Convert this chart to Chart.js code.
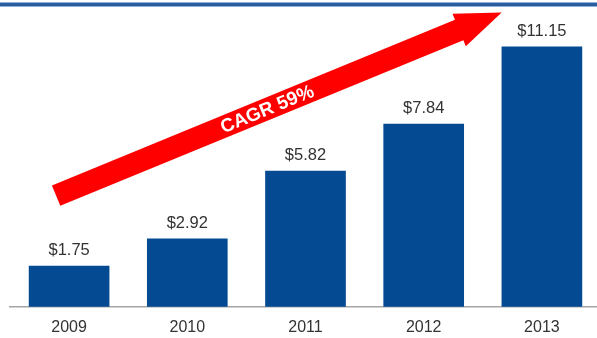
<!DOCTYPE html>
<html>
<head>
<meta charset="utf-8">
<script src="https://cdn.jsdelivr.net/npm/chart.js@4.4.0/dist/chart.umd.min.js"></script>
<style>
  html, body { margin: 0; padding: 0; background: #fff; overflow: hidden; }
  #wrap { position: absolute; left: 0; top: 0; width: 604px; height: 350px; }
</style>
</head>
<body>
<div id="wrap"><canvas id="myChart"></canvas></div>
<script>
const years = ['2009', '2010', '2011', '2012', '2013'];
const revenue = [1.75, 2.92, 5.82, 7.84, 11.15];
const valueLabels = ['$1.75', '$2.92', '$5.82', '$7.84', '$11.15'];
const growthText = 'CAGR 59%';
// arrow ends in data terms: [category index, value]
const arrowFrom = [-0.11, 4.77];
const arrowTo = [3.66, 12.62];

const BLUE = '#044a93';
const TEXT = '#333333';
const FONT = '"Liberation Sans", Arial, sans-serif';

const topRule = {
  id: 'topRule',
  beforeDraw(chart) {
    const ctx = chart.ctx;
    ctx.save();
    ctx.fillStyle = '#8fb0d8';
    ctx.fillRect(0, 2, chart.width, 5);
    ctx.fillStyle = '#2a5c9f';
    ctx.fillRect(0, 3, chart.width, 3);
    ctx.restore();
  },
};

const barLabels = {
  id: 'barLabels',
  afterDatasetsDraw(chart) {
    const ctx = chart.ctx;
    const meta = chart.getDatasetMeta(0);
    ctx.save();
    ctx.fillStyle = TEXT;
    ctx.font = '16.5px ' + FONT;
    ctx.textAlign = 'center';
    ctx.textBaseline = 'alphabetic';
    meta.data.forEach((bar, i) => {
      ctx.fillText(valueLabels[i], bar.x, bar.y - 11);
    });
    ctx.restore();
  },
};

const growthArrow = {
  id: 'growthArrow',
  afterDatasetsDraw(chart) {
    const ctx = chart.ctx;
    const xs = chart.scales.x;
    const ys = chart.scales.y;
    const x0 = xs.getPixelForValue(arrowFrom[0]);
    const y0 = ys.getPixelForValue(arrowFrom[1]);
    const x1 = xs.getPixelForValue(arrowTo[0]);
    const y1 = ys.getPixelForValue(arrowTo[1]);
    const len = Math.hypot(x1 - x0, y1 - y0);
    const ang = Math.atan2(y1 - y0, x1 - x0);
    const shaft = 22, head = 35, headLen = 46;

    ctx.save();
    ctx.translate(x0, y0);
    ctx.rotate(ang);
    ctx.fillStyle = '#ff0000';
    ctx.beginPath();
    ctx.moveTo(0, -shaft / 2);
    ctx.lineTo(len - headLen, -shaft / 2);
    ctx.lineTo(len - headLen, -head / 2);
    ctx.lineTo(len, 0);
    ctx.lineTo(len - headLen, head / 2);
    ctx.lineTo(len - headLen, shaft / 2);
    ctx.lineTo(0, shaft / 2);
    ctx.closePath();
    ctx.fill();

    ctx.fillStyle = '#ffffff';
    ctx.font = 'bold 19px ' + FONT;
    ctx.textAlign = 'center';
    ctx.textBaseline = 'middle';
    ctx.fillText(growthText, 228, 1);
    ctx.restore();
  },
};

new Chart(document.getElementById('myChart'), {
  type: 'bar',
  data: {
    labels: years,
    datasets: [{
      data: revenue,
      backgroundColor: BLUE,
      borderWidth: 0,
      barThickness: 80,
    }],
  },
  options: {
    responsive: true,
    maintainAspectRatio: false,
    animation: false,
    layout: { padding: { left: 10, right: 3, top: 20, bottom: 2 } },
    plugins: { legend: { display: false }, tooltip: { enabled: false } },
    scales: {
      x: {
        grid: { display: false, drawTicks: false },
        border: { display: true, color: '#a5a5a5', width: 1.5 },
        ticks: { color: TEXT, font: { family: FONT, size: 16 }, padding: 11 },
      },
      y: {
        display: false,
        min: 0,
        max: 12.30,
      },
    },
  },
  plugins: [topRule, barLabels, growthArrow],
});
</script>
</body>
</html>
